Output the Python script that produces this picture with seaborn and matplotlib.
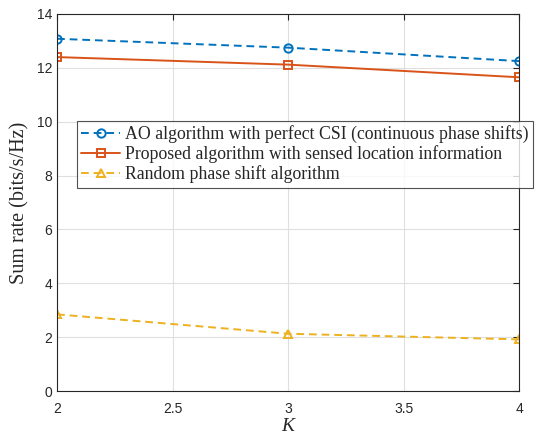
import pandas as pd
import matplotlib
matplotlib.use("Agg")
import matplotlib.pyplot as plt
import seaborn as sns

# Données
K = [2, 3, 4]
ao_perfect = [13.08, 12.75, 12.25]
proposed = [12.40, 12.12, 11.65]
random_phase = [2.85, 2.13, 1.92]

labels = ["AO algorithm with perfect CSI (continuous phase shifts)",
          "Proposed algorithm with sensed location information",
          "Random phase shift algorithm"]
colors = ["#0072BD", "#D95319", "#EDB120"]
markers = ["o", "s", "^"]
dashes = [(4, 2.5), (None, None), (4, 2.5)]

df = pd.DataFrame({"K": K * 3,
                   "rate": ao_perfect + proposed + random_phase,
                   "algo": [labels[0]] * 3 + [labels[1]] * 3 + [labels[2]] * 3})

sns.set_style("white")
plt.rcParams['font.family'] = ['Liberation Sans', 'DejaVu Sans']

fig = plt.figure(figsize=(5.38, 4.37), dpi=100)
ax = fig.add_axes([0.106, 0.105, 0.859, 0.863])

for lab, c, m, d in zip(labels, colors, markers, dashes):
    sub = df[df["algo"] == lab]
    sns.lineplot(data=sub, x="K", y="rate", ax=ax, color=c,
                 marker=m, markersize=6, markerfacecolor="none",
                 markeredgecolor=c, markeredgewidth=1.4, linewidth=1.4,
                 label=lab)
    if d[0] is not None:
        ax.lines[-1].set_dashes(d)

ax.set_xlim(2, 4)
ax.set_ylim(0, 14)
ax.set_xticks([2, 2.5, 3, 3.5, 4])
ax.set_xticklabels(["2", "2.5", "3", "3.5", "4"])
ax.set_yticks(range(0, 15, 2))
ax.grid(True, color="#dfdfdf", linewidth=0.8)
ax.tick_params(direction="in", length=4, top=True, right=True,
               labelsize=10, colors="#262626", width=0.8)
ax.tick_params(axis="x", pad=8)
for sp in ax.spines.values():
    sp.set_color("#262626")
    sp.set_linewidth(0.8)

ax.set_xlabel("K", fontfamily="Liberation Serif", fontstyle="italic",
              fontsize=14, labelpad=1)
ax.set_ylabel("Sum rate (bits/s/Hz)", fontfamily="Liberation Serif",
              fontsize=14.5, labelpad=5)

leg = ax.legend(loc="upper left", bbox_to_anchor=(0.043, 0.716),
                prop={"family": "Liberation Serif", "size": 12.75},
                frameon=True, fancybox=False, borderaxespad=0,
                handlelength=2.2, handletextpad=0.25, labelspacing=0.12,
                borderpad=0.25)
leg.get_frame().set_edgecolor("#262626")
leg.get_frame().set_linewidth(0.8)

plt.savefig("out.png", dpi=100)
